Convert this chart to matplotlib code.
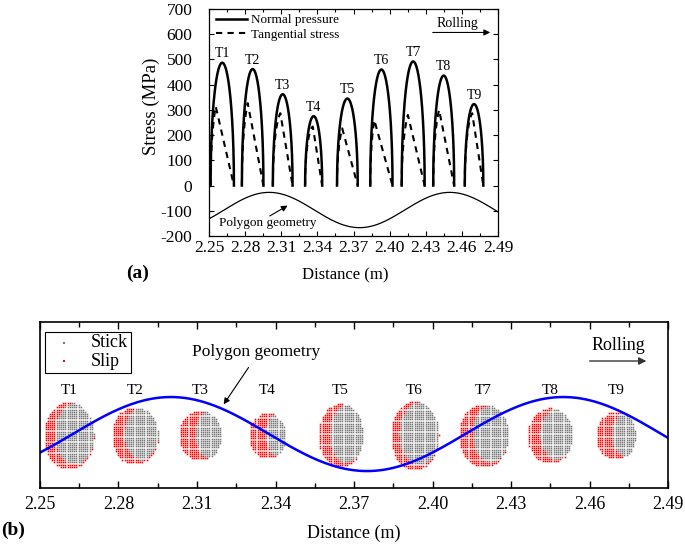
import numpy as np
import matplotlib.pyplot as plt
from matplotlib.lines import Line2D

plt.rcParams['font.family'] = ['Liberation Serif', 'DejaVu Serif']
plt.rcParams['axes.unicode_minus'] = False

# contact patches T1..T9
labels = ['T1', 'T2', 'T3', 'T4', 'T5', 'T6', 'T7', 'T8', 'T9']
x_start = [2.2513, 2.2773, 2.3030, 2.3298, 2.3563, 2.3839, 2.4100, 2.4362, 2.4624]
x_end = [2.2707, 2.2952, 2.3194, 2.3440, 2.3735, 2.4024, 2.4291, 2.4536, 2.4778]
p_max = [487, 462, 362, 275, 345, 460, 492, 436, 323]       # normal pressure peak, MPa
q_top = [314, 327, 287, 234, 227, 260, 280, 300, 287]       # tangential stress max, MPa
stick_frac = [0.22, 0.27, 0.38, 0.45, 0.25, 0.18, 0.27, 0.28, 0.40]  # slip/stick boundary
patch_half_h = [0.202, 0.172, 0.151, 0.136, 0.193, 0.208, 0.191, 0.166, 0.145]
patch_yc = 0.316

# polygonal wheel geometry
geo_peak_x = 2.30
geo_wavelength = 0.15
geo_mean_a, geo_amp_a = -97, 70
geo_mean_b, geo_amp_b = 0.325, 0.223

xticks = [2.25, 2.28, 2.31, 2.34, 2.37, 2.40, 2.43, 2.46, 2.49]

fig = plt.figure(figsize=(6.85, 5.52), dpi=100)
ax1 = fig.add_axes([209 / 685, 1 - 236 / 552, 289 / 685, 227 / 552])
ax2 = fig.add_axes([40 / 685, 1 - 488 / 552, 628 / 685, 166 / 552])


def geometry(x, mean, amp):
    return mean + amp * np.cos(2 * np.pi * (x - geo_peak_x) / geo_wavelength)


# ---------- (a) ----------
for i in range(len(labels)):
    xs, xe = x_start[i], x_end[i]
    xc, a = (xs + xe) / 2, (xe - xs) / 2
    x = np.linspace(xs, xe, 300)
    p = p_max[i] * np.sqrt(np.clip(1 - ((x - xc) / a) ** 2, 0, None))
    xb = xs + stick_frac[i] * (xe - xs)
    pb = p_max[i] * np.sqrt(1 - ((xb - xc) / a) ** 2)
    mu = q_top[i] / pb
    q = np.where(x < xb, mu * p, q_top[i] * (xe - x) / (xe - xb))
    ax1.plot(x, q, color='black', lw=1.5, ls=(0, (3, 2.5)))
    ax1.plot(x, p, color='black', lw=1.8)
    ax1.text(xc, p_max[i] + 35, labels[i], ha='center', va='center', fontsize=10)

xg = np.linspace(2.25, 2.49, 400)
ax1.plot(xg, geometry(xg, geo_mean_a, geo_amp_a), color='black', lw=0.9)

ax1.annotate('', xy=(2.3173, -74), xytext=(2.2985, -126),
             arrowprops=dict(arrowstyle='-|>', color='black', lw=0.8,
                             mutation_scale=9))
ax1.text(2.2986, -150, 'Polygon geometry', ha='center', va='center', fontsize=9.5)
ax1.annotate('', xy=(2.4858, 607), xytext=(2.4335, 607),
             arrowprops=dict(arrowstyle='-|>', color='black', lw=0.8,
                             mutation_scale=9))
ax1.text(2.4564, 644, 'Rolling', ha='center', va='center', fontsize=10)

handles = [Line2D([], [], color='black', lw=1.8),
           Line2D([], [], color='black', lw=1.5, ls=(0, (3, 2.5)))]
ax1.legend(handles, ['Normal pressure', 'Tangential stress'], loc='upper left',
           bbox_to_anchor=(0.025, 0.978), frameon=False, fontsize=9.5,
           handlelength=2.3, handletextpad=0.3, labelspacing=0.2,
           borderaxespad=0, borderpad=0)

ax1.set_xlim(2.25, 2.49)
ax1.set_ylim(-200, 700)
ax1.set_xticks(xticks)
ax1.set_xticks(np.arange(2.265, 2.49, 0.03), minor=True)
ax1.set_xticklabels(['%.2f' % t for t in xticks])
ax1.set_yticks(range(-200, 701, 100))
ax1.tick_params(direction='in', top=True, right=True, labelsize=12.5, length=3.5, width=0.8)
ax1.tick_params(axis='x', pad=3)
ax1.tick_params(axis='y', pad=12)
ax1.tick_params(which='minor', direction='in', top=True, length=2, width=0.8)
ax1.set_xlabel('Distance (m)', fontsize=12)
ax1.set_ylabel('Stress (MPa)', fontsize=13.5)
ax1.xaxis.set_label_coords(0.47, -0.14)
ax1.yaxis.set_label_coords(-0.17, 0.573)
for s in ax1.spines.values():
    s.set_linewidth(0.9)
fig.text(138 / 685, 1 - 273 / 552, '(a)', fontsize=14, fontweight='bold',
         ha='center', va='center')

# ---------- (b) ----------
dx = 0.24 / 628 * 2.2
dy = 2.2 / 166
for i in range(len(labels)):
    xs, xe = x_start[i], x_end[i]
    xc, a = (xs + xe) / 2, (xe - xs) / 2
    h = patch_half_h[i]
    gx = np.arange(xs, xe + dx / 2, dx)
    gy = patch_yc + np.arange(-h, h + dy / 2, dy)
    X, Y = np.meshgrid(gx, gy)
    inside = ((X - xc) / a) ** 2 + ((Y - patch_yc) / h) ** 2 <= 1
    xb = xs + stick_frac[i] * (xe - xs)
    cw = (xe - xb) / 2
    stick = ((X - (xe - cw)) / cw) ** 2 + ((Y - patch_yc - 0.06 * h) / (0.92 * h)) ** 2 <= 1
    ax2.scatter(X[inside & stick], Y[inside & stick], s=1.3, marker='s',
                color='#7a7a7a', linewidths=0, snap=False,
                label='Stick' if i == 0 else None)
    ax2.scatter(X[inside & ~stick], Y[inside & ~stick], s=1.3, marker='s',
                color='#ff0000', linewidths=0, snap=False,
                label='Slip' if i == 0 else None)
    ax2.text(xc, 0.59, labels[i], ha='center', va='center', fontsize=11)

ax2.plot(xg, geometry(xg, geo_mean_b, geo_amp_b), color='#0000ff', lw=1.8)
ax2.annotate('', xy=(2.3196, 0.49), xytext=(2.3303, 0.74),
             arrowprops=dict(arrowstyle='-|>', color='black', lw=0.8,
                             mutation_scale=9))
ax2.text(2.3325, 0.819, 'Polygon geometry', ha='center', va='center', fontsize=12.5)
ax2.annotate('', xy=(2.4828, 0.765), xytext=(2.459, 0.765),
             arrowprops=dict(arrowstyle='-|>', color='#333333', lw=1.0,
                             mutation_scale=11))
ax2.text(2.4709, 0.861, 'Rolling', ha='center', va='center', fontsize=13)

leg = ax2.legend(loc='upper left', bbox_to_anchor=(0.008, 0.942), borderaxespad=0,
                 fontsize=13, fancybox=False, edgecolor='black', framealpha=1,
                 handletextpad=0.6, labelspacing=0.1, borderpad=0.15,
                 markerscale=1.3, handlelength=1.8)
leg.get_frame().set_linewidth(0.8)

ax2.set_xlim(2.25, 2.49)
ax2.set_ylim(0, 1)
ax2.set_xticks(xticks)
ax2.set_xticks(np.arange(2.265, 2.49, 0.03), minor=True)
ax2.set_xticklabels(['%.2f' % t for t in xticks])
ax2.set_yticks([])
ax2.tick_params(axis='x', direction='in', top=True, labelsize=13, length=5, width=1, pad=6)
ax2.tick_params(axis='x', which='minor', direction='in', top=True, length=3.5, width=1)
ax2.set_xlabel('Distance (m)', fontsize=13)
ax2.xaxis.set_label_coords(0.5, -0.22)
for s in ax2.spines.values():
    s.set_linewidth(1.2)
fig.text(13 / 685, 1 - 530 / 552, '(b)', fontsize=14, fontweight='bold',
         ha='center', va='center')

fig.savefig('out.png', dpi=100)
